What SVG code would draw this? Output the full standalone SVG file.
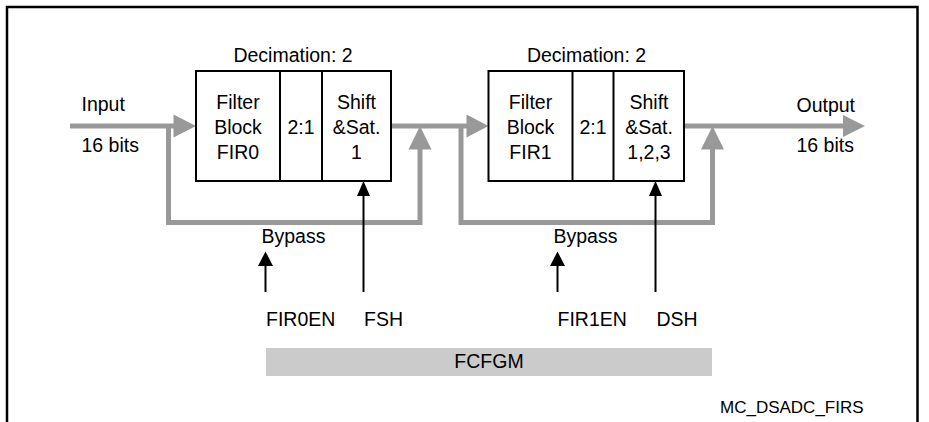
<svg xmlns="http://www.w3.org/2000/svg" width="929" height="422" viewBox="0 0 929 422">
<defs>
<style>
text{font-family:"Liberation Sans",Arial,sans-serif;font-size:19.5px;fill:#000}
.c{text-anchor:middle}
.box{fill:#fff;stroke:#000;stroke-width:2}
.g{fill:none;stroke:#999;stroke-width:5}
.gh{fill:#999}
.k{fill:none;stroke:#000;stroke-width:2}
.kh{fill:#000}
</style>
</defs>
<rect width="929" height="422" fill="#fff"/>
<path d="M7 422V7H917.5V422" fill="none" stroke="#000" stroke-width="2.5"/>
<g id="connectors">
<path class="g" d="M70 126H175"/>
<polygon class="gh" points="196,126 173.5,114.5 173.5,137.5"/>
<path class="g" d="M391 126H468"/>
<polygon class="gh" points="488.5,126 466.5,114.5 466.5,137.5"/>
<path class="g" d="M684 126H845"/>
<polygon class="gh" points="865,126 843,115 843,137"/>
<path class="g" d="M168.5 126V222.5H420V148"/>
<polygon class="gh" points="420,126 408.5,149.5 431.5,149.5"/>
<path class="g" d="M461 126V222.5H712.5V148"/>
<polygon class="gh" points="712.5,126 701,149.5 724,149.5"/>
<path class="k" d="M363.5 292V195"/>
<polygon class="kh" points="363.5,181 357,196 370,196"/>
<path class="k" d="M655.5 292V195"/>
<polygon class="kh" points="655.5,181 649,196 662,196"/>
<path class="k" d="M265.5 292V264"/>
<polygon class="kh" points="265.5,251.5 258,266 273,266"/>
<path class="k" d="M557.5 292V264"/>
<polygon class="kh" points="557.5,251.5 550,266 565,266"/>
</g>
<g id="fir0">
<text class="c" x="293" y="61.5">Decimation: 2</text>
<rect class="box" x="196" y="71" width="195" height="110"/>
<path class="k" d="M280 71V181M322 71V181"/>
<text class="c" x="238" y="108.5">Filter</text>
<text class="c" x="238" y="133.5">Block</text>
<text class="c" x="238" y="158.5">FIR0</text>
<text class="c" x="301" y="133.5">2:1</text>
<text class="c" x="356.5" y="108.5">Shift</text>
<text class="c" x="356.5" y="133.5">&amp;Sat.</text>
<text class="c" x="356.5" y="158.5">1</text>
</g>
<g id="fir1">
<text class="c" x="586.5" y="61.5">Decimation: 2</text>
<rect class="box" x="488.5" y="71" width="195.5" height="110"/>
<path class="k" d="M572.5 71V181M613.5 71V181"/>
<text class="c" x="530.5" y="108.5">Filter</text>
<text class="c" x="530.5" y="133.5">Block</text>
<text class="c" x="530.5" y="158.5">FIR1</text>
<text class="c" x="593" y="133.5">2:1</text>
<text class="c" x="649" y="108.5">Shift</text>
<text class="c" x="649" y="133.5">&amp;Sat.</text>
<text class="c" x="649" y="158.5">1,2,3</text>
</g>
<g id="input">
<text x="81.5" y="111">Input</text>
<text x="81.5" y="152">16 bits</text>
</g>
<g id="output">
<text x="796.5" y="111.5">Output</text>
<text x="796.5" y="152">16 bits</text>
</g>
<g id="bypass0"><text x="261.5" y="242.5">Bypass</text></g>
<g id="bypass1"><text x="553.5" y="242.5">Bypass</text></g>
<g id="fir0en"><text x="266" y="326">FIR0EN</text></g>
<g id="fsh"><text x="364" y="326">FSH</text></g>
<g id="fir1en"><text x="557.5" y="326">FIR1EN</text></g>
<g id="dsh"><text x="656.5" y="326">DSH</text></g>
<g id="fcfgm">
<rect x="266" y="348" width="446" height="28" fill="#cbcbcb"/>
<text class="c" x="489" y="368">FCFGM</text>
</g>
<g id="label"><text x="720" y="413" style="font-size:17px">MC_DSADC_FIRS</text></g>
</svg>
